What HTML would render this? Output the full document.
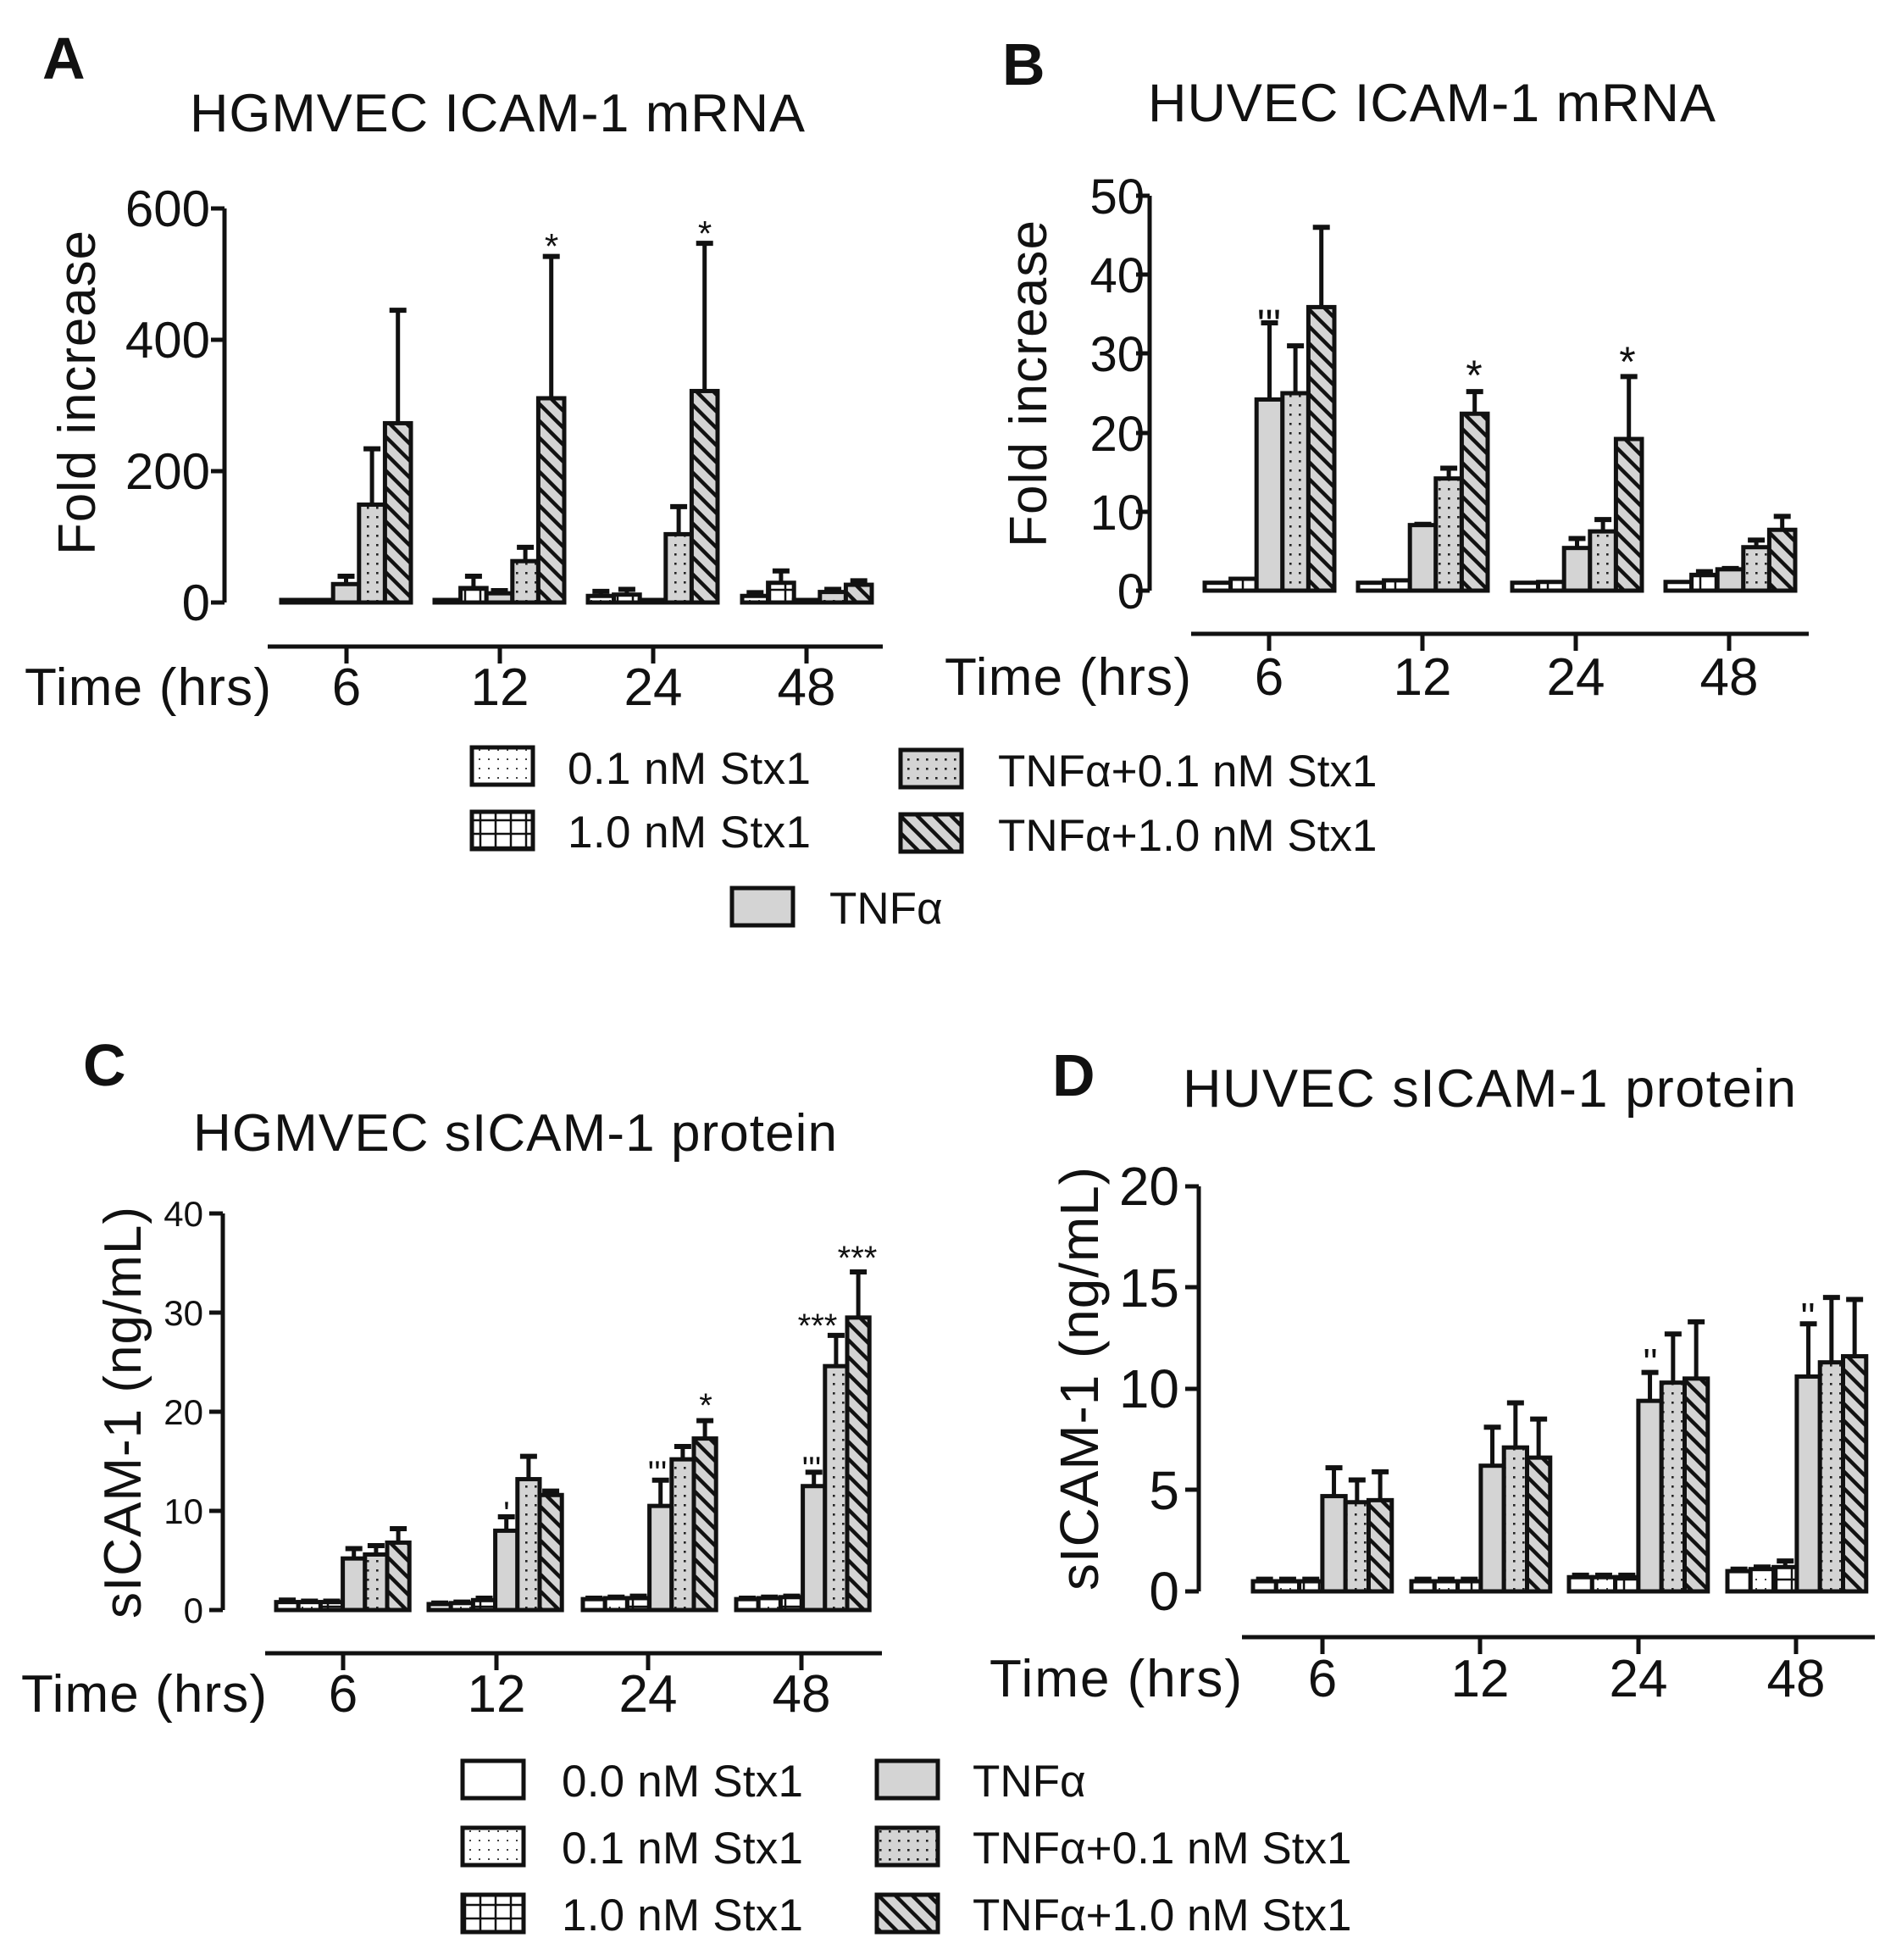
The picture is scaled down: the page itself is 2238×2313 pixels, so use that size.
<!DOCTYPE html>
<html><head><meta charset="utf-8"><style>
html,body{margin:0;padding:0;background:#fff}
svg{display:block}
text{font-family:"Liberation Sans",Arial,sans-serif;fill:#111}
.b{font-weight:bold}
</style></head><body>
<svg id="s" xmlns="http://www.w3.org/2000/svg" width="2238" height="2313" viewBox="0 0 2238 2313">
<defs>
<pattern id="hatch" patternUnits="userSpaceOnUse" width="20" height="20">
<rect width="20" height="20" fill="#d4d4d4"/>
<path d="M-5,-5 L25,25 M-5,15 L5,25 M15,-5 L25,5" stroke="#111" stroke-width="4.5"/>
</pattern>
<pattern id="dotg" patternUnits="userSpaceOnUse" width="11" height="11">
<rect width="11" height="11" fill="#d4d4d4"/><rect x="4" y="4" width="2.6" height="2.6" fill="#222"/>
</pattern>
<pattern id="dotw" patternUnits="userSpaceOnUse" width="11" height="11">
<rect width="11" height="11" fill="#fff"/><rect x="4" y="4" width="2" height="2" fill="#444"/>
</pattern>
<pattern id="grid" patternUnits="userSpaceOnUse" width="18" height="16">
<rect width="18" height="16" fill="#fff"/><path d="M9,0V16M0,8H18" stroke="#111" stroke-width="2.5"/>
</pattern>
</defs>
<g id="shapes" stroke="#111" stroke-width="5" fill="none"></g>

<!-- Panel A -->
<text class="b" x="50" y="93" font-size="70">A</text>
<text x="224" y="155" font-size="63" textLength="726">HGMVEC ICAM-1 mRNA</text>
<text x="0" y="0" font-size="62" textLength="383" transform="translate(112,655) rotate(-90)">Fold increase</text>
<g font-size="60" text-anchor="end">
<text x="248" y="732">0</text><text x="248" y="577">200</text><text x="248" y="422">400</text><text x="248" y="267">600</text>
</g>
<g font-size="62" text-anchor="middle">
<text x="409" y="832">6</text><text x="590" y="832">12</text><text x="771" y="832">24</text><text x="952" y="832">48</text>
</g>
<text x="29" y="832" font-size="62" textLength="291">Time (hrs)</text>
<g font-size="42" text-anchor="middle">
<text x="651" y="305">*</text><text x="832" y="290">*</text>
</g>

<!-- Panel B -->
<text class="b" x="1183" y="100" font-size="70">B</text>
<text x="1355" y="143" font-size="63" textLength="670">HUVEC ICAM-1 mRNA</text>
<text x="0" y="0" font-size="62" textLength="386" transform="translate(1235,646) rotate(-90)">Fold increase</text>
<g font-size="58" text-anchor="end">
<text x="1351" y="718">0</text><text x="1351" y="625">10</text><text x="1351" y="532">20</text><text x="1351" y="438">30</text><text x="1351" y="345">40</text><text x="1351" y="252">50</text>
</g>
<g font-size="62" text-anchor="middle">
<text x="1498" y="820">6</text><text x="1679" y="820">12</text><text x="1860" y="820">24</text><text x="2041" y="820">48</text>
</g>
<text x="1115" y="820" font-size="62" textLength="291">Time (hrs)</text>
<g font-size="50" text-anchor="middle">
<text x="1498" y="400">'''</text><text x="1740" y="460">*</text><text x="1921" y="444">*</text>
</g>

<!-- Legend A/B -->
<g font-size="53">
<text x="670" y="925" textLength="287">0.1 nM Stx1</text>
<text x="670" y="1000" textLength="287">1.0 nM Stx1</text>
<text x="1178" y="928">TNFα+0.1 nM Stx1</text>
<text x="1178" y="1004">TNFα+1.0 nM Stx1</text>
<text x="979" y="1090">TNFα</text>
</g>

<!-- Panel C -->
<text class="b" x="98" y="1281" font-size="70">C</text>
<text x="228" y="1358" font-size="62" textLength="760">HGMVEC sICAM-1 protein</text>
<text x="0" y="0" font-size="62" textLength="486" transform="translate(166,1910) rotate(-90)">sICAM-1 (ng/mL)</text>
<g font-size="42" text-anchor="end">
<text x="240" y="1915">0</text><text x="240" y="1798">10</text><text x="240" y="1681">20</text><text x="240" y="1564">30</text><text x="240" y="1447">40</text>
</g>
<g font-size="62" text-anchor="middle">
<text x="405" y="2020">6</text><text x="586" y="2020">12</text><text x="765" y="2020">24</text><text x="946" y="2020">48</text>
</g>
<text x="25" y="2020" font-size="62" textLength="290">Time (hrs)</text>
<g font-size="40" text-anchor="middle">
<text x="598" y="1800">'</text><text x="776" y="1752">'''</text><text x="833" y="1672">*</text>
<text x="958" y="1747">'''</text><text x="965" y="1578">***</text><text x="1012" y="1498">***</text>
</g>

<!-- Panel D -->
<text class="b" x="1242" y="1293" font-size="70">D</text>
<text x="1396" y="1306" font-size="63" textLength="724">HUVEC sICAM-1 protein</text>
<text x="0" y="0" font-size="64" textLength="500" transform="translate(1296,1877) rotate(-90)">sICAM-1 (ng/mL)</text>
<g font-size="64" text-anchor="end">
<text x="1392" y="1900">0</text><text x="1392" y="1781">5</text><text x="1392" y="1661">10</text><text x="1392" y="1542">15</text><text x="1392" y="1422">20</text>
</g>
<g font-size="62" text-anchor="middle">
<text x="1561" y="2002">6</text><text x="1747" y="2002">12</text><text x="1934" y="2002">24</text><text x="2120" y="2002">48</text>
</g>
<text x="1168" y="2002" font-size="62" textLength="298">Time (hrs)</text>
<g font-size="46" text-anchor="middle">
<text x="1948" y="1624">''</text><text x="2134" y="1570">''</text>
</g>

<!-- Legend C/D -->
<g font-size="53">
<text x="663" y="2120" textLength="285">0.0 nM Stx1</text>
<text x="663" y="2199" textLength="285">0.1 nM Stx1</text>
<text x="663" y="2278" textLength="285">1.0 nM Stx1</text>
<text x="1148" y="2120">TNFα</text>
<text x="1148" y="2199">TNFα+0.1 nM Stx1</text>
<text x="1148" y="2278">TNFα+1.0 nM Stx1</text>
</g>
</svg>
<script>
(function(){
var g=document.getElementById('shapes');var NS='http://www.w3.org/2000/svg';
function el(t,a){var e=document.createElementNS(NS,t);for(var k in a)e.setAttribute(k,a[k]);g.appendChild(e);return e;}
function fillOf(p){return p==='white'?'#fff':p==='gray'?'#d4d4d4':'url(#'+p+')';}
function panel(c){
 el('line',{x1:c.ax,y1:c.base,x2:c.ax,y2:c.top});
 c.ticks.forEach(function(y){el('line',{x1:c.ax-16,y1:y,x2:c.ax,y2:y});});
 el('line',{x1:c.xl[0],y1:c.xy,x2:c.xl[1],y2:c.xy});
 c.xt.forEach(function(x){el('line',{x1:x,y1:c.xy,x2:x,y2:c.xy+20});});
 c.gx.forEach(function(gx,gi){
  c.data[gi].forEach(function(d,bi){
   var x=gx+bi*c.bw, h=Math.max(d[0]*c.ppu,3), y=c.base-h, cx=x+c.bw/2;
   if(d[1]>d[0]){var ye=c.base-d[1]*c.ppu;el('line',{x1:cx,y1:y,x2:cx,y2:ye});el('line',{x1:cx-10,y1:ye,x2:cx+10,y2:ye,'stroke-width':6});}
   el('rect',{x:x,y:y,width:c.bw,height:h,fill:fillOf(c.pats[bi])});
  });
 });
}
var P5=['dotw','grid','gray','dotg','hatch'],P6=['white','dotw','grid','gray','dotg','hatch'];
panel({ax:265,base:711,top:246,ticks:[711,556,401,246],xy:763,xl:[316,1042],xt:[409,590,771,952],
 gx:[332,513,694,876],bw:30.6,ppu:0.775,pats:P5,data:[
 [[1,0],[3,0],[28,40],[149,234],[273,445]],
 [[3,0],[22,40],[14,18],[63,84],[311,527]],
 [[10,17],[12,20],[3,0],[104,146],[322,547]],
 [[10,15],[30,48],[1,0],[16,20],[27,33]]]});
panel({ax:1357,base:697,top:231,ticks:[697,604,511,417,324,231],xy:748,xl:[1406,2135],xt:[1498,1679,1860,2041],
 gx:[1422,1603,1785,1966],bw:30.6,ppu:9.32,pats:P5,data:[
 [[1,0],[1.5,0],[24.2,33.9],[25,31],[35.9,46]],
 [[1,0],[1.3,0],[8.3,8.4],[14.2,15.5],[22.4,25.2]],
 [[1,0],[1.1,0],[5.4,6.6],[7.5,9],[19.2,27.1]],
 [[1.1,0],[2,2.4],[2.7,2.8],[5.5,6.4],[7.7,9.4]]]});
panel({ax:263,base:1900,top:1432,ticks:[1900,1783,1666,1549,1432],xy:1951,xl:[313,1041],xt:[405,586,765,946],
 gx:[326,506,688,869],bw:26.2,ppu:11.7,pats:P6,data:[
 [[0.8,1],[0.8,0.9],[0.8,0.9],[5.2,6.2],[5.6,6.5],[6.8,8.2]],
 [[0.6,0.7],[0.7,0.8],[1,1.2],[8,9.4],[13.2,15.5],[11.6,12]],
 [[1.1,1.2],[1.2,1.3],[1.2,1.4],[10.5,13.1],[15.2,16.5],[17.3,19.1]],
 [[1.1,1.2],[1.2,1.3],[1.3,1.4],[12.5,13.9],[24.6,27.7],[29.5,34.1]]]});
panel({ax:1415,base:1878,top:1400,ticks:[1878,1758,1639,1519,1400],xy:1932,xl:[1466,2213],xt:[1561,1747,1934,2120],
 gx:[1479,1666,1852,2039],bw:27.3,ppu:23.92,pats:P6,data:[
 [[0.5,0.6],[0.5,0.6],[0.5,0.6],[4.7,6.1],[4.4,5.5],[4.5,5.9]],
 [[0.5,0.6],[0.5,0.6],[0.5,0.6],[6.2,8.1],[7.1,9.3],[6.6,8.5]],
 [[0.7,0.8],[0.7,0.8],[0.7,0.8],[9.4,10.8],[10.3,12.7],[10.5,13.3]],
 [[1,1.1],[1.1,1.2],[1.2,1.5],[10.6,13.2],[11.3,14.5],[11.6,14.4]]]});
function box(x,y,p){el('rect',{x:x,y:y,width:72,height:44,fill:fillOf(p)});}
box(557,882,'dotw');box(557,958,'grid');box(1063,885,'dotg');box(1063,961,'hatch');box(864,1048,'gray');
box(546,2078,'white');box(546,2157,'dotw');box(546,2236,'grid');
box(1035,2078,'gray');box(1035,2157,'dotg');box(1035,2236,'hatch');
})();
</script>
</body></html>
